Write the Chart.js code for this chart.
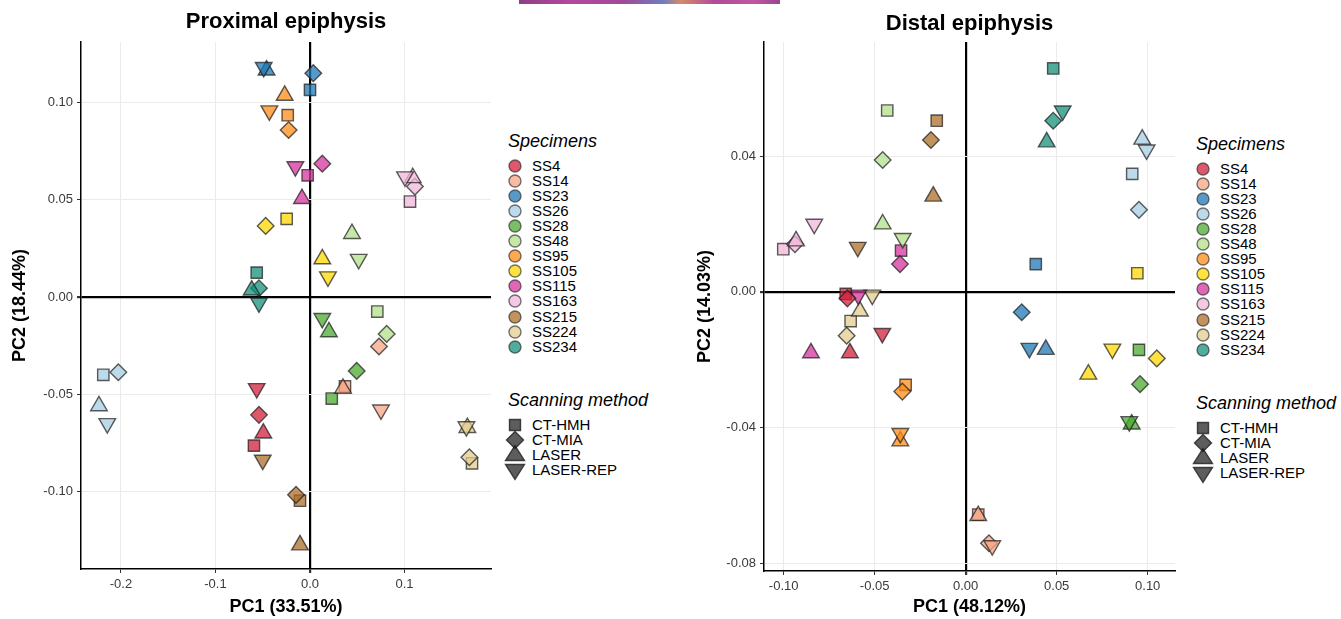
<!DOCTYPE html>
<html>
<head>
<meta charset="utf-8">
<script src="https://cdn.jsdelivr.net/npm/chart.js@4.4.1/dist/chart.umd.min.js"></script>
<style>
html,body{margin:0;padding:0;background:#fff;}
body{width:1341px;height:619px;position:relative;overflow:hidden;font-family:"Liberation Sans",Arial,sans-serif;}
canvas{position:absolute;top:0;}
#cProx{left:0;}
#cDist{left:690px;}
.banner{position:absolute;left:519px;top:0;width:261px;height:4px;
  background:linear-gradient(90deg,#8e3f86,#b5489c 20%,#a24a95 40%,#6d7cc4 55%,#d68a6a 62%,#b04a9a 75%,#c2569f 90%,#9a4590);}
.leg{position:absolute;left:0;top:0;color:#000;}
.leg .ttl{position:absolute;font-style:italic;font-size:18px;line-height:22px;white-space:nowrap;}
.leg svg{position:absolute;overflow:visible;}
.leg .lab{position:absolute;font-size:15px;line-height:16px;white-space:nowrap;}
</style>
</head>
<body>
<div class="banner"></div>
<canvas id="cProx" width="493" height="619"></canvas>
<canvas id="cDist" width="487" height="619"></canvas>
<div class="leg" id="legends"></div>
<script>
// PCA scores, one row per specimen, columns in the order of `methods`
const specimens = ['SS4','SS14','SS23','SS26','SS28','SS48','SS95','SS105','SS115','SS163','SS215','SS224','SS234'];
const methods = ['CT-HMH','CT-MIA','LASER','LASER-REP'];
const specimenColors = ['#D21F3C','#F4A582','#1F78B4','#A6CEE3','#4BAA33','#B2DF8A','#FF8C1A','#FFD700','#D6339E','#F1B6DA','#AD6D2A','#E3CC8E','#15907A'];

// proximal epiphysis
const proxPC1 = [
  [-0.0593, -0.0540, -0.0494, -0.0564],
  [ 0.0370,  0.0730,  0.0349,  0.0751],
  [ 0.0000,  0.0035, -0.0460, -0.0490],
  [-0.2187, -0.2028, -0.2233, -0.2145],
  [ 0.0230,  0.0494,  0.0200,  0.0130],
  [ 0.0712,  0.0811,  0.0444,  0.0515],
  [-0.0236, -0.0226, -0.0268, -0.0430],
  [-0.0247, -0.0469,  0.0130,  0.0190],
  [-0.0025,  0.0130, -0.0085, -0.0155],
  [ 0.1058,  0.1110,  0.1087,  0.1005],
  [-0.0106, -0.0148, -0.0106, -0.0500],
  [ 0.1714,  0.1686,  0.1665,  0.1655],
  [-0.0564, -0.0540, -0.0617, -0.0540]
];
const proxPC2 = [
  [-0.0764, -0.0606, -0.0700, -0.0470],
  [-0.0460, -0.0255, -0.0470, -0.0580],
  [ 0.1064,  0.1150,  0.1165,  0.1180],
  [-0.0400, -0.0387, -0.0560, -0.0650],
  [-0.0522, -0.0380, -0.0180, -0.0110],
  [-0.0075, -0.0190,  0.0325,  0.0194],
  [ 0.0934,  0.0858,  0.1035,  0.0957],
  [ 0.0401,  0.0365,  0.0195,  0.0104],
  [ 0.0625,  0.0685,  0.0505,  0.0670],
  [ 0.0490,  0.0567,  0.0612,  0.0618],
  [-0.1047, -0.1017, -0.1275, -0.0838],
  [-0.0855, -0.0824, -0.0672, -0.0666],
  [ 0.0125,  0.0045,  0.0035, -0.0030]
];
const proxXTicks = [-0.2, -0.1, 0.0, 0.1];
const proxYTicks = [-0.10, -0.05, 0.00, 0.05, 0.10];

// distal epiphysis
const distPC1 = [
  [-0.0659, -0.0650, -0.0636, -0.0458],
  [ 0.0069,  0.0128,  0.0069,  0.0146],
  [ 0.0385,  0.0308,  0.0440,  0.0350],
  [ 0.0915,  0.0952,  0.0970,  0.0994],
  [ 0.0952,  0.0958,  0.0912,  0.0899],
  [-0.0431, -0.0456, -0.0456, -0.0346],
  [-0.0330, -0.0348, -0.0359, -0.0359],
  [ 0.0943,  0.1050,  0.0674,  0.0806],
  [-0.0355, -0.0361, -0.0850, -0.0590],
  [-0.1002, -0.0938, -0.0932, -0.0832],
  [-0.0159, -0.0191, -0.0178, -0.0593],
  [-0.0632, -0.0654, -0.0581, -0.0513],
  [ 0.0481,  0.0481,  0.0445,  0.0533]
];
const distPC2 = [
  [-0.0006, -0.0019, -0.0180, -0.0122],
  [-0.0657, -0.0741, -0.0660, -0.0748],
  [ 0.0082, -0.0060, -0.0170, -0.0166],
  [ 0.0348,  0.0242,  0.0450,  0.0419],
  [-0.0171, -0.0272, -0.0390, -0.0382],
  [ 0.0535,  0.0389,  0.0200,  0.0158],
  [-0.0274, -0.0294, -0.0440, -0.0417],
  [ 0.0055, -0.0196, -0.0243, -0.0168],
  [ 0.0122,  0.0082, -0.0180, -0.0009],
  [ 0.0126,  0.0141,  0.0150,  0.0200],
  [ 0.0505,  0.0448,  0.0282,  0.0132],
  [-0.0086, -0.0129, -0.0057, -0.0009],
  [ 0.0659,  0.0505,  0.0442,  0.0534]
];
const distXTicks = [-0.10, -0.05, 0.00, 0.05, 0.10];
const distYTicks = [-0.08, -0.04, 0.00, 0.04];

// marker per scanning method
const methodStyle = ['rect','rectRot','triangle','triangle'];
const methodRotation = [0, 0, 0, 180];
const methodRadius = [8, 8.3, 9.6, 9.6];

Chart.defaults.font.family = '"Liberation Sans", Arial, sans-serif';

function withAlpha(hex, a) {
  const n = parseInt(hex.slice(1), 16);
  return `rgba(${n >> 16},${(n >> 8) & 255},${n & 255},${a})`;
}

function pcaChart(id, o) {
  const isZero = c => c.tick && Math.abs(c.tick.value) < 1e-12;
  const grid = {
    color: c => isZero(c) ? '#000' : '#EBEBEB',
    lineWidth: c => isZero(c) ? 2.2 : 1,
    tickColor: '#333',
    tickLength: 4,
  };
  const tickFont = { size: 13 };
  return new Chart(document.getElementById(id), {
    type: 'scatter',
    data: {
      datasets: specimens.map((s, i) => ({
        label: s,
        data: methods.map((m, j) => ({ x: o.pc1[i][j], y: o.pc2[i][j] })),
        pointStyle: methodStyle,
        pointRotation: methodRotation,
        pointRadius: methodRadius,
        backgroundColor: withAlpha(specimenColors[i], 0.75),
        borderColor: 'rgba(30,30,30,0.72)',
        borderWidth: 1.4,
      }))
    },
    options: {
      responsive: false,
      animation: false,
      events: [],
      layout: { autoPadding: false, padding: { left: 0, right: 2, top: 0, bottom: 0 } },
      plugins: {
        legend: { display: false },
        tooltip: { enabled: false },
        title: {
          display: true, text: o.title, fullSize: false, color: '#000',
          font: { size: 22, weight: 'bold' }, padding: o.titlePad
        }
      },
      scales: {
        x: {
          type: 'linear', min: o.xMin, max: o.xMax,
          afterBuildTicks: s => { s.ticks = o.xTicks.map(v => ({ value: v })); },
          afterFit: s => { s.height = o.xAxisH; },
          ticks: { callback: v => v.toFixed(o.xDec), color: '#3a3a3a', font: tickFont, padding: 4, maxRotation: 0 },
          grid: grid,
          border: { color: '#000', width: 1.5 },
          title: { display: true, text: o.xTitle, color: '#000', font: { size: 18, weight: 'bold' }, padding: { top: 0, bottom: 1 } }
        },
        y: {
          type: 'linear', min: o.yMin, max: o.yMax,
          afterBuildTicks: s => { s.ticks = o.yTicks.map(v => ({ value: v })); },
          afterFit: s => { s.width = o.yAxisW; },
          ticks: { callback: v => v.toFixed(2), color: '#3a3a3a', font: tickFont, padding: 4 },
          grid: grid,
          border: { color: '#000', width: 1.5 },
          title: { display: true, text: o.yTitle, color: '#000', font: { size: 18, weight: 'bold' }, padding: { top: o.yTitlePad, bottom: 0 } }
        }
      }
    }
  });
}

pcaChart('cProx', {
  title: 'Proximal epiphysis', titlePad: { top: 9, bottom: 6.6 },
  pc1: proxPC1, pc2: proxPC2,
  xMin: -0.2423, xMax: 0.1915, yMin: -0.1398, yMax: 0.1310,
  xTicks: proxXTicks, yTicks: proxYTicks, xDec: 1,
  xTitle: 'PC1 (33.51%)', yTitle: 'PC2 (18.44%)',
  xAxisH: 50, yAxisW: 81, yTitlePad: 9
});

pcaChart('cDist', {
  title: 'Distal epiphysis', titlePad: { top: 10.5, bottom: 5.1 },
  pc1: distPC1, pc2: distPC2,
  xMin: -0.1108, xMax: 0.1150, yMin: -0.0823, yMax: 0.0737,
  xTicks: distXTicks, yTicks: distYTicks, xDec: 2,
  xTitle: 'PC1 (48.12%)', yTitle: 'PC2 (14.03%)',
  xAxisH: 48, yAxisW: 74, yTitlePad: 4
});

// ── legends (HTML) ──
const SVGNS = 'http://www.w3.org/2000/svg';
function shapeSvg(kind, fill, stroke) {
  const svg = document.createElementNS(SVGNS, 'svg');
  svg.setAttribute('width', 20); svg.setAttribute('height', 20);
  let el;
  if (kind === 'circle') {
    el = document.createElementNS(SVGNS, 'circle');
    el.setAttribute('cx', 10); el.setAttribute('cy', 10); el.setAttribute('r', 6);
  } else {
    el = document.createElementNS(SVGNS, 'polygon');
    const pts = {
      square: '4.5,4.5 15.5,4.5 15.5,15.5 4.5,15.5',
      diamond: '10,1.5 18.5,10 10,18.5 1.5,10',
      up: '10,0.5 19.5,15.5 0.5,15.5',
      down: '10,19.5 19.5,4.5 0.5,4.5'
    }[kind];
    el.setAttribute('points', pts);
  }
  el.setAttribute('fill', fill);
  el.setAttribute('stroke', stroke);
  el.setAttribute('stroke-width', 1.4);
  svg.appendChild(el);
  return svg;
}
function addText(host, cls, txt, x, cy, h) {
  const d = document.createElement('div');
  d.className = cls; d.textContent = txt;
  d.style.left = x + 'px'; d.style.top = (cy - h / 2) + 'px';
  host.appendChild(d);
}
function buildLegend(x, y) {
  const host = document.getElementById('legends');
  addText(host, 'ttl', 'Specimens', x, y, 22);
  specimens.forEach((s, i) => {
    const cy = y + 25 + i * 15.05;
    const svg = shapeSvg('circle', withAlpha(specimenColors[i], 0.75), 'rgba(30,30,30,0.6)');
    svg.style.left = (x - 3) + 'px'; svg.style.top = (cy - 10) + 'px';
    host.appendChild(svg);
    addText(host, 'lab', s, x + 24, cy, 16);
  });
  addText(host, 'ttl', 'Scanning method', x, y + 259, 22);
  const kinds = ['square', 'diamond', 'up', 'down'];
  methods.forEach((m, k) => {
    const cy = y + 284 + k * 15;
    const svg = shapeSvg(kinds[k], 'rgba(30,30,30,0.72)', 'rgba(30,30,30,0.8)');
    svg.style.left = (x - 3) + 'px'; svg.style.top = (cy - 10) + 'px';
    host.appendChild(svg);
    addText(host, 'lab', m, x + 24, cy, 16);
  });
}
buildLegend(508, 141);
buildLegend(1196, 144);
</script>
</body>
</html>
